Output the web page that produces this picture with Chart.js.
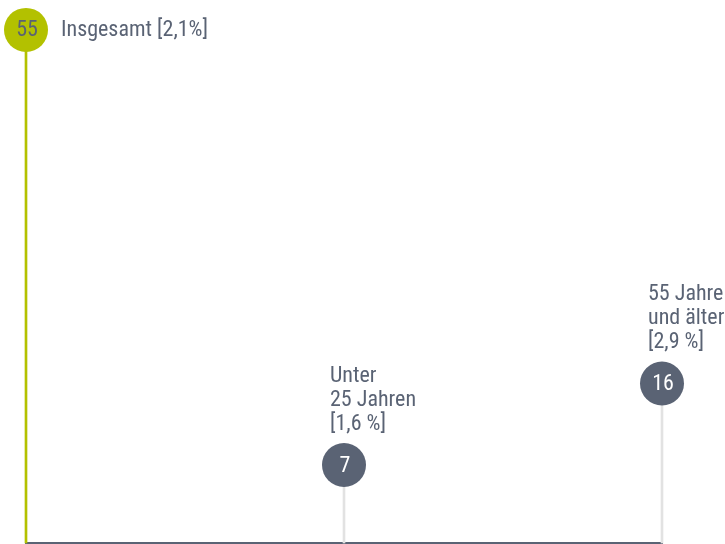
<!DOCTYPE html>
<html>
<head>
<meta charset="utf-8">
<script src="https://cdn.jsdelivr.net/npm/chart.js@4"></script>
<style>
  html, body { margin: 0; padding: 0; background: #fff; }
  #wrap { width: 725px; height: 544px; }
</style>
</head>
<body>
<div id="wrap"><canvas id="chart"></canvas></div>
<script>
// data
const categories = ["Insgesamt", "Unter 25 Jahren", "55 Jahre und älter"];
const counts = [55, 7, 16];
const labelLines = [
    ["Insgesamt [2,1%]"],
    ["Unter", "25 Jahren", "[1,6 %]"],
    ["55 Jahre", "und älter", "[2,9 %]"]
];

const GREEN = "#b3c100";
const SLATE = "#5a6374";
const STEM = "#e2e2e2";
const FONT = '"Liberation Sans Narrow", "Roboto Condensed", Roboto, sans-serif';
const Y_MIN = -1.6;
const Y_MAX = 58.3;

const circleColors = counts.map((v, i) => i === 0 ? GREEN : SLATE);
const stemColors = counts.map((v, i) => i === 0 ? GREEN : STEM);

/* labels + baseline */
const labelPlugin = {
    id: "labels",
    beforeDatasetsDraw(chart) {
        const { ctx, chartArea } = chart;
        const x0 = chart.scales.x.getPixelForValue(0);
        const x1 = chart.scales.x.getPixelForValue(counts.length - 1);
        ctx.save();
        ctx.strokeStyle = SLATE;
        ctx.lineWidth = 2;
        ctx.beginPath();
        ctx.moveTo(x0 - 1, chartArea.bottom);
        ctx.lineTo(x1 + 1, chartArea.bottom);
        ctx.stroke();
        ctx.restore();
    },
    afterDatasetsDraw(chart) {
        const { ctx } = chart;
        const meta = chart.getDatasetMeta(0);
        ctx.save();
        meta.data.forEach((pt, i) => {
            const x = pt.x, y = pt.y;
            ctx.font = "22px " + FONT;
            ctx.textAlign = "center";
            ctx.textBaseline = "middle";
            ctx.fillStyle = i === 0 ? SLATE : "#ffffff";
            ctx.fillText(String(counts[i]), x + 1, y + 1);

            ctx.font = "22px " + FONT;
            ctx.fillStyle = SLATE;
            ctx.textAlign = "left";
            const lines = labelLines[i];
            if (i === 0) {
                ctx.fillText(lines[0], x + 35, y + 1);
            } else {
                lines.forEach((t, k) => {
                    const ly = y - 41 - (lines.length - 1 - k) * 24;
                    ctx.fillText(t, x - 14, ly);
                });
            }
        });
        ctx.restore();
    }
};

new Chart(document.getElementById("chart"), {
    data: {
        labels: categories,
        datasets: [
            {
                type: "line",
                data: counts,
                showLine: false,
                pointRadius: 22,
                pointHoverRadius: 22,
                pointBorderWidth: 0,
                pointBackgroundColor: circleColors,
                clip: false,
                order: 0
            },
            {
                type: "bar",
                data: counts,
                base: Y_MIN,
                backgroundColor: stemColors,
                barThickness: counts.map((v, i) => i === 0 ? 3 : 2),
                clip: false,
                order: 1
            }
        ]
    },
    options: {
        responsive: true,
        maintainAspectRatio: false,
        animation: false,
        layout: { autoPadding: false, padding: { left: 26, right: 63, top: 0, bottom: 1 } },
        plugins: { legend: { display: false }, tooltip: { enabled: false } },
        scales: {
            x: { display: false, offset: false },
            y: { display: false, min: Y_MIN, max: Y_MAX }
        }
    },
    plugins: [labelPlugin]
});
</script>
</body>
</html>
